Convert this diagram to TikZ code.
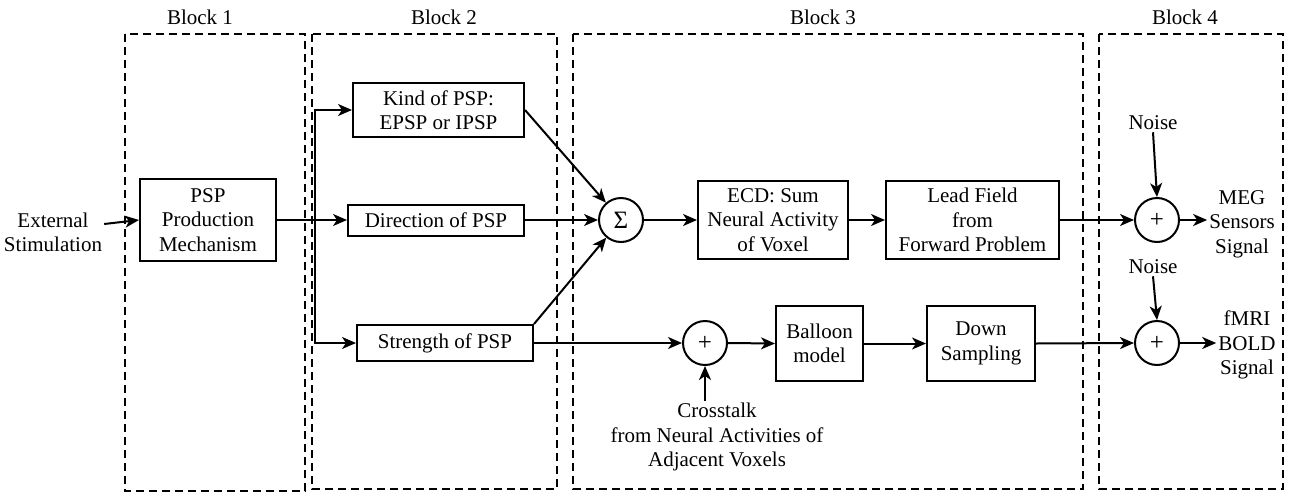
\documentclass[tikz,border=0pt]{standalone}
\usepackage{fontspec}
\setmainfont{Liberation Serif}
\usetikzlibrary{arrows.meta}
\begin{document}
\begin{tikzpicture}[x=1pt,y=-1pt,
  font=\fontsize{21}{24.5}\selectfont,
  boxed/.style={draw,line width=2pt,align=center,inner sep=0pt},
  sumnode/.style={draw,circle,line width=2pt,minimum size=44pt,inner sep=0pt,
                  font=\fontsize{25}{25}\selectfont},
  wire/.style={line width=2pt},
  conn/.style={line width=2pt,-{Stealth[length=14pt,width=12pt,inset=4pt]}},
  frame/.style={draw,line width=1.8pt,dash pattern=on 8pt off 5pt},
  label/.style={inner sep=2pt}]
\useasboundingbox (0,0) rectangle (1292,493);

% dashed block frames and their titles
\draw[frame] (125,34) rectangle (305,491);
\draw[frame] (312,34) rectangle (557,489);
\draw[frame] (573,34) rectangle (1083,489);
\draw[frame] (1099,34) rectangle (1283,489);
\node[label] (b1) at (200,17) {Block 1};
\node[label] (b2) at (444,17) {Block 2};
\node[label] (b3) at (823,17) {Block 3};
\node[label] (b4) at (1185,17) {Block 4};

% processing blocks
\node[label,align=center] (ext) at (53,232.5) {External\\Stimulation};
\node[boxed,minimum width=136pt,minimum height=82pt] (psp) at (208,220) {PSP\\Production\\Mechanism};
\node[boxed,minimum width=171pt,minimum height=54pt] (kind) at (438.5,110) {Kind of PSP:\\EPSP or IPSP};
\node[boxed,minimum width=176pt,minimum height=31pt] (dir) at (436,220) {Direction of PSP};
\node[boxed,minimum width=176pt,minimum height=36pt] (str) at (445,343) {Strength of PSP};
\node[sumnode] (sig) at (621,220) {Σ};
\node[boxed,minimum width=150pt,minimum height=78pt] (ecd) at (773,220) {ECD: Sum\\Neural Activity\\of Voxel};
\node[boxed,minimum width=173pt,minimum height=78pt] (lead) at (972.5,220) {Lead Field\\from\\Forward Problem};
\node[sumnode] (addm) at (1157,220) {+};
\node[sumnode] (addc) at (705,343) {+};
\node[boxed,minimum width=87pt,minimum height=75pt] (ball) at (819.5,343.5) {Balloon\\model};
\node[boxed,minimum width=108pt,minimum height=75pt] (down) at (981,343.5) {Down\\Sampling};
\node[sumnode] (addf) at (1157,343) {+};
\node[label] (n1) at (1153,123) {Noise};
\node[label] (n2) at (1153,267) {Noise};
\node[label,align=center] (meg) at (1242,224) {MEG\\Sensors\\Signal};
\node[label,align=center] (fmri) at (1247,345) {fMRI\\BOLD\\Signal};
\node[label,align=center] (xt) at (717,437) {Crosstalk\\from Neural Activities of\\Adjacent Voxels};

% signal flow
\coordinate (sp) at (315,220);
\draw[conn] ([yshift=8.5pt]ext.east) -- (psp.west);
\draw[wire] (psp.east) -- (sp);
\draw[conn] (sp) |- (kind.west);
\draw[conn] (sp) -- (dir.west);
\draw[conn] (sp) |- (str.west);
\draw[conn] (kind.east) -- (sig);
\draw[conn] (dir.east) -- (sig.west);
\draw[conn] (str.north east) -- (sig);
\draw[conn] (sig.east) -- (ecd.west);
\draw[conn] (ecd.east) -- (lead.west);
\draw[conn] (lead.east) -- (addm.west);
\draw[conn] (n1.south) -- (addm.north);
\draw[conn] (addm.east) -- (addm.east -| meg.west);
\draw[conn] (str.east) -- (addc.west);
\draw[conn] (xt.north -| addc.south) -- (addc.south);
\draw[conn] (addc.east) -- (ball.west);
\draw[conn] (ball.east) -- (down.west);
\draw[conn] (down.east) -- (addf.west);
\draw[conn] (n2.south) -- (addf.north);
\draw[conn] (addf.east) -- (addf.east -| fmri.west);
\end{tikzpicture}
\end{document}
